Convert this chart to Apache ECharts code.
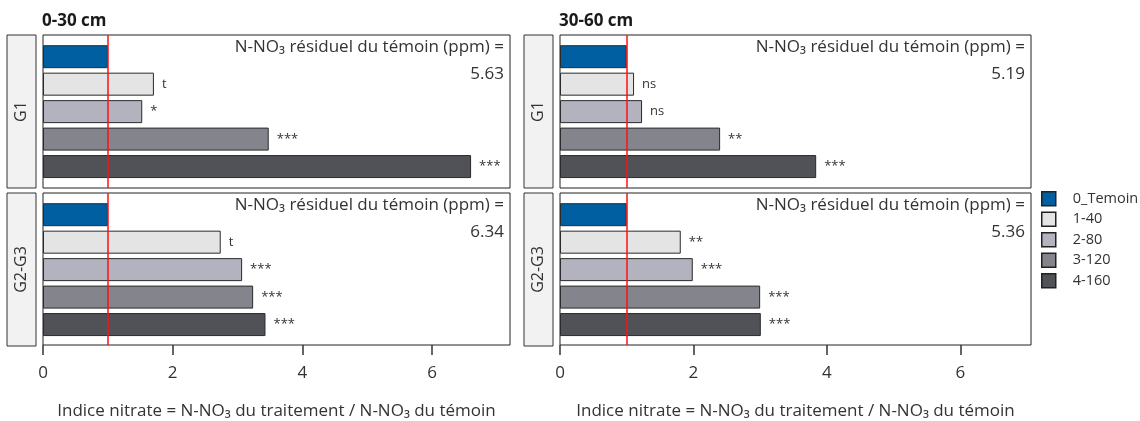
<!DOCTYPE html>
<html>
<head>
<meta charset="utf-8">
<script src="https://cdn.jsdelivr.net/npm/echarts@6/dist/echarts.min.js"></script>
<style>
  html, body { margin: 0; padding: 0; background: #ffffff; }
  #chart { width: 1140px; height: 421px; }
</style>
</head>
<body>
<div id="chart"></div>
<script>
// Treatments (legend order) and their fills
const treatments = ['0_Temoin', '1-40', '2-80', '3-120', '4-160'];
const fills = ['#005fa0', '#e4e4e4', '#b3b3bf', '#84848c', '#515158'];

// Depth columns and group rows
const depths = ['0-30 cm', '30-60 cm'];
const groups = ['G1', 'G2-G3'];

// Nitrate index per treatment (treated / control)
const g1_0_30 = [1.00, 1.71, 1.53, 3.48, 6.60];
const g23_0_30 = [1.00, 2.74, 3.07, 3.24, 3.43];
const g1_30_60 = [1.00, 1.11, 1.23, 2.40, 3.84];
const g23_30_60 = [1.00, 1.81, 1.99, 3.00, 3.01];

// Significance marks vs control
const sig_g1_0_30 = ['', 't', '*', '***', '***'];
const sig_g23_0_30 = ['', 't', '***', '***', '***'];
const sig_g1_30_60 = ['', 'ns', 'ns', '**', '***'];
const sig_g23_30_60 = ['', '**', '***', '***', '***'];

// Residual N-NO3 of the control plot (ppm)
const residual_g1_0_30 = 5.63;
const residual_g23_0_30 = 6.34;
const residual_g1_30_60 = 5.19;
const residual_g23_30_60 = 5.36;

// Axis ticks and reference index
const xTicks = [0, 2, 4, 6];
const refIndex = 1;

const FONT = '"Open Sans", "Noto Sans", sans-serif';
const INK = '#333333';

// Panel layout (pixels)
const colLeft = [43, 560];
const colWidth = [467, 471];
const colMax = [7.2, 7.06];
const rowTop = [35, 193];
const rowHeight = 153;
const bandPitch = 27.47;      // height of one treatment band
const bandInset = 7.96;       // gap between frame and first band
const stripLeft = [7, 524];
const stripWidth = 29;

const panels = [
  { col: 0, row: 0, values: g1_0_30, sig: sig_g1_0_30, residual: residual_g1_0_30 },
  { col: 0, row: 1, values: g23_0_30, sig: sig_g23_0_30, residual: residual_g23_0_30 },
  { col: 1, row: 0, values: g1_30_60, sig: sig_g1_30_60, residual: residual_g1_30_60 },
  { col: 1, row: 1, values: g23_30_60, sig: sig_g23_30_60, residual: residual_g23_30_60 }
];

const grids = [], xAxes = [], yAxes = [], series = [], graphics = [];
const nP = panels.length;

// Frame grids: box, x ticks/labels, reference line
panels.forEach((p, k) => {
  grids.push({
    left: colLeft[p.col], top: rowTop[p.row], width: colWidth[p.col], height: rowHeight,
    show: true, backgroundColor: '#ffffff', borderColor: '#222222', borderWidth: 1
  });
  const bottom = p.row === 1;
  xAxes.push({
    type: 'value', gridIndex: k, min: 0, max: colMax[p.col],
    splitLine: { show: false },
    axisLine: { show: false },
    axisTick: { show: bottom, customValues: xTicks, length: 10, lineStyle: { color: INK, width: 1.5 } },
    axisLabel: { show: bottom, customValues: xTicks, fontSize: 17, color: INK, fontFamily: FONT, margin: 20 },
    name: bottom ? 'Indice nitrate = N-NO\u2083 du traitement / N-NO\u2083 du t\u00e9moin' : '',
    nameLocation: 'middle', nameGap: 58,
    nameTextStyle: { fontSize: 17, color: INK, fontFamily: FONT }
  });
  yAxes.push({ type: 'value', gridIndex: k, min: 0, max: 1, show: false });
  series.push({
    type: 'line', xAxisIndex: k, yAxisIndex: k, data: [], z: 10,
    markLine: {
      silent: true, symbol: 'none', animation: false,
      label: { show: false },
      lineStyle: { color: '#ff1010', width: 1.5, type: 'solid' },
      data: [{ xAxis: refIndex }]
    }
  });
});

// Data grids: one band per treatment, inset inside each frame
panels.forEach((p, k) => {
  const g = nP + k;
  grids.push({
    left: colLeft[p.col], top: rowTop[p.row] + bandInset,
    width: colWidth[p.col], height: bandPitch * treatments.length
  });
  xAxes.push({ type: 'value', gridIndex: g, min: 0, max: colMax[p.col], show: false, splitLine: { show: false } });
  yAxes.push({ type: 'category', gridIndex: g, data: treatments, inverse: true, show: false });
  treatments.forEach((t, i) => {
    series.push({
      type: 'bar', name: t, xAxisIndex: g, yAxisIndex: g, stack: 'panel' + k,
      barWidth: 23,
      data: treatments.map((_, j) => (j === i ? p.values[i] : '-')),
      itemStyle: { color: fills[i], borderColor: '#2a2a2a', borderWidth: 1 },
      label: {
        show: p.sig[i] !== '', position: 'right', distance: 8,
        formatter: () => p.sig[i], fontSize: 13, color: INK, fontFamily: FONT
      }
    });
  });

  // Facet strip for the group
  const sx = stripLeft[p.col], sy = rowTop[p.row];
  graphics.push({
    type: 'rect', shape: { x: sx, y: sy, width: stripWidth, height: rowHeight },
    style: { fill: '#f2f2f2', stroke: '#333333', lineWidth: 1 }
  });
  graphics.push({
    type: 'text', x: sx + stripWidth / 2, y: sy + rowHeight / 2, rotation: Math.PI / 2,
    style: { text: groups[p.row], fontSize: 16, fill: INK, fontFamily: FONT, align: 'center', verticalAlign: 'middle' }
  });

  // Residual nitrate note in the panel's top-right corner
  const rx = colLeft[p.col] + colWidth[p.col] - 6;
  graphics.push({
    type: 'text', x: rx, y: sy + 12,
    style: { text: 'N-NO\u2083 r\u00e9siduel du t\u00e9moin (ppm) =', fontSize: 17, fill: INK, fontFamily: FONT, align: 'right', verticalAlign: 'middle' }
  });
  graphics.push({
    type: 'text', x: rx, y: sy + 39,
    style: { text: p.residual.toFixed(2), fontSize: 17, fill: INK, fontFamily: FONT, align: 'right', verticalAlign: 'middle' }
  });
});

// Depth titles
depths.forEach((d, c) => {
  graphics.push({
    type: 'text', x: colLeft[c] - 1, y: 21,
    style: { text: d, fontSize: 17, fontWeight: 'bold', fill: '#1a1a1a', fontFamily: FONT, align: 'left', verticalAlign: 'middle' }
  });
});

const chart = echarts.init(document.getElementById('chart'), null, { renderer: 'canvas' });
chart.setOption({
  animation: false,
  backgroundColor: '#ffffff',
  grid: grids,
  xAxis: xAxes,
  yAxis: yAxes,
  series: series,
  legend: {
    data: treatments, orient: 'vertical', left: 1036, top: 186,
    icon: 'rect', itemWidth: 14, itemHeight: 14, itemGap: 5,
    itemStyle: { borderColor: '#222222', borderWidth: 1.5 },
    selectedMode: false,
    textStyle: { fontSize: 14.5, color: INK, fontFamily: FONT, padding: [0, 0, 0, 12] }
  },
  graphic: graphics
});
</script>
</body>
</html>
